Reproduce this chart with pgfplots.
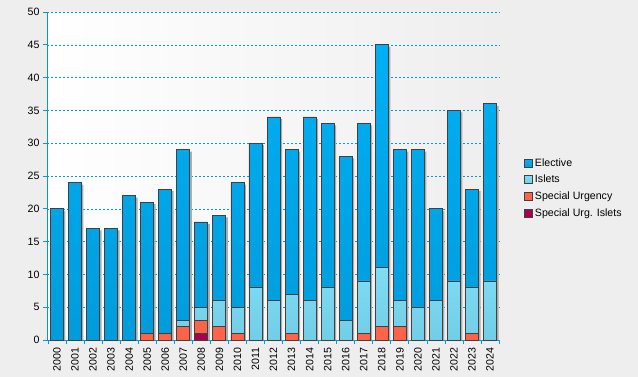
\documentclass[border=0pt]{standalone}
\usepackage{pgfplots}
\usepackage{pgfplotstable}
\pgfplotsset{compat=1.18}
\usepackage{fontspec}
\setmainfont{Liberation Sans}
\definecolor{elec}{HTML}{00B0F4}
\definecolor{elecD}{HTML}{009CDC}
\definecolor{isl}{HTML}{80DCF4}
\definecolor{islD}{HTML}{72CEE6}
\definecolor{su}{HTML}{FF634A}
\definecolor{sui}{HTML}{A8004F}
\definecolor{axblue}{HTML}{0099DD}
\definecolor{outer}{HTML}{EEEEEE}
\definecolor{edge}{HTML}{404040}

\pgfplotstableread{
x year E I SU SUI T
0 2000 20 0 0 0 20
1 2001 24 0 0 0 24
2 2002 17 0 0 0 17
3 2003 17 0 0 0 17
4 2004 22 0 0 0 22
5 2005 20 0 1 0 21
6 2006 22 0 1 0 23
7 2007 26 1 2 0 29
8 2008 13 2 2 1 18
9 2009 13 4 2 0 19
10 2010 19 4 1 0 24
11 2011 22 8 0 0 30
12 2012 28 6 0 0 34
13 2013 22 6 1 0 29
14 2014 28 6 0 0 34
15 2015 25 8 0 0 33
16 2016 25 3 0 0 28
17 2017 24 8 1 0 33
18 2018 34 9 2 0 45
19 2019 23 4 2 0 29
20 2020 24 5 0 0 29
21 2021 14 6 0 0 20
22 2022 26 9 0 0 35
23 2023 15 7 1 0 23
24 2024 27 9 0 0 36
}\data

\begin{document}
\begin{tikzpicture}
\fill[outer] (-47bp,-37bp) rectangle (591bp,340bp);
\path (-47bp,-37bp) rectangle (591bp,340bp);
% background axis with grid and shadows
\begin{axis}[
  at={(0,0)}, anchor=south west,
  scale only axis, width=453bp, height=328bp,
  xmin=-0.55, xmax=24.55, ymin=0, ymax=50,
  axis background/.style={left color=white, right color=outer},
  axis line style={draw=none},
  xtick=\empty, ytick={5,10,...,50}, yticklabels={},
  major tick length=0pt,
  ymajorgrids,
  grid style={axblue, dash pattern=on 2bp off 2bp, line width=0.6bp},
]
\addplot[ybar, bar width=13bp, bar shift=2bp, fill=gray!65, draw=none,
  y filter/.expression={y-0.3}] table[x=x, y=T] {\data};
\end{axis}
% foreground axis with stacked bars
\begin{axis}[
  at={(0,0)}, anchor=south west,
  scale only axis, width=453bp, height=328bp,
  xmin=-0.55, xmax=24.55, ymin=0, ymax=50,
  ybar stacked, bar width=13bp,
  axis x line*=bottom, axis y line*=left,
  axis line style={axblue, line width=0.8bp, -},
  xtick={0,...,24},
  xticklabels={2000,2001,2002,2003,2004,2005,2006,2007,2008,2009,2010,2011,2012,2013,2014,2015,2016,2017,2018,2019,2020,2021,2022,2023,2024},
  x tick label style={rotate=90, anchor=east, font=\fontsize{10.67}{12}\selectfont, yshift=0bp},
  minor xtick={-0.5,0.5,...,24.5},
  ytick={0,5,...,50},
  y tick label style={font=\fontsize{10.67}{12}\selectfont},
  /pgf/number format/assume math mode=true,
  tick align=outside,
  major tick length=4bp, minor tick length=4bp,
  tick style={axblue, line width=0.8bp},
  major x tick style={draw=none},
  legend style={at={(axis description cs:1,0.463)}, anchor=west, xshift=21bp,
    draw=none, fill=none, font=\fontsize{10.67}{12}\selectfont,
    row sep=3.5bp, /tikz/every even column/.append style={column sep=5bp}},
  legend cell align=left,
  reverse legend,
  legend image code/.code={\fill[#1] (0bp,-4bp) rectangle (8bp,4bp);},
]
\addplot[draw=edge, line width=0.8bp, fill=sui] table[x=x, y=SUI] {\data};
\addlegendentry{Special Urg. Islets}
\addplot[draw=edge, line width=0.8bp, fill=su] table[x=x, y=SU] {\data};
\addlegendentry{Special Urgency}
\addplot[draw=edge, line width=0.8bp, top color=isl, bottom color=islD] table[x=x, y=I] {\data};
\addlegendentry{Islets}
\addplot[draw=edge, line width=0.8bp, top color=elec, bottom color=elecD] table[x=x, y=E] {\data};
\addlegendentry{Elective}
\end{axis}
\end{tikzpicture}
\end{document}
